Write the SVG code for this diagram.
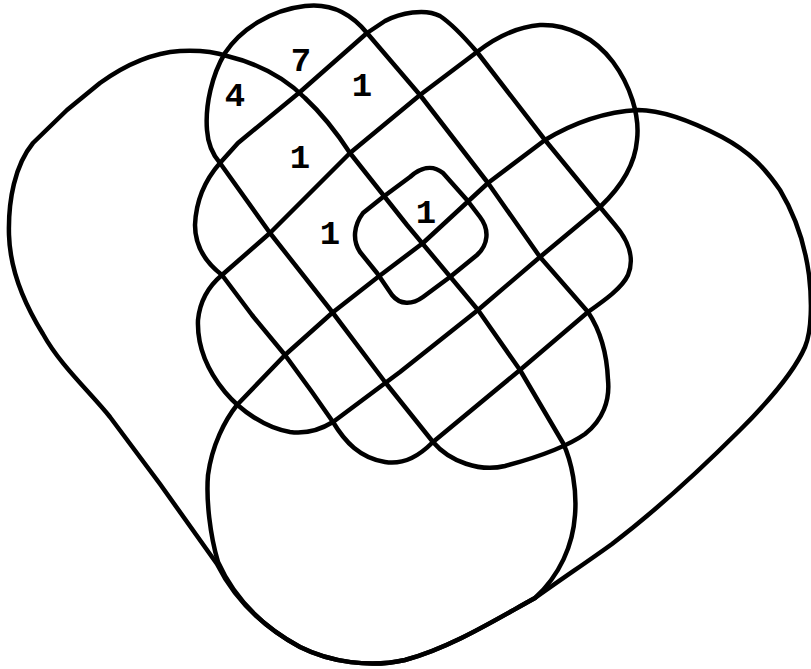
<svg xmlns="http://www.w3.org/2000/svg" width="811" height="669" viewBox="0 0 811 669">
<style>
.c{fill:none;stroke:#000;stroke-width:4.5;stroke-linejoin:round;stroke-linecap:round}
.t{font-family:"Liberation Mono","Courier New",monospace;font-weight:bold;font-size:34px;fill:#000;text-anchor:middle}
</style>
<rect width="811" height="669" fill="#fff"/>
<g id="set-L">
<path class="c" d="M 217,564 L 160,484 L 110,417 C 90,392 60,365 43,334 C 25,305 10,270 9,235 C 8,200 15,165 33,143 L 67,110 L 100,83 C 125,65 150,53 180,51 C 200,50 215,52 227,56 C 260,64 285,78 305,98 C 320,112 335,130 350,153 L 407,225 L 478,310 L 520,370 L 563,443 C 572,462 577,490 575,515 C 573,545 560,575 535,598 C 495,620 450,648 405,660 C 370,668 330,662 300,647 C 265,628 235,600 217,564 Z"/>
</g>
<g id="set-R">
<path class="c" d="M 535,598 C 560,580 590,560 612,544 C 650,515 700,470 740,430 C 770,400 795,370 805,347 C 812,330 812,300 809,275 C 805,245 795,215 780,190 C 765,168 750,152 722,137 C 695,123 665,110 638,110 C 600,112 570,125 545,140 L 488,183 L 423,243 L 378,277 L 332,313 L 285,355 L 237,405 C 225,420 212,445 208,475 C 206,500 210,535 218,562 C 235,600 265,628 300,647 C 330,662 370,668 405,660 C 450,648 495,620 535,598 Z"/>
</g>
<g id="set-A">
<path class="c" d="M 220,163 L 270,233 L 333,313 L 385,382 L 433,442 C 450,462 480,472 505,466 C 535,458 565,448 585,434 C 603,420 610,400 608,380 C 607,355 600,330 588,312 L 540,257 L 488,183 L 420,95 L 367,33 C 350,12 330,3 305,6 C 270,10 240,30 225,53 C 212,75 205,105 207,130 C 208,145 213,155 220,163 Z"/>
</g>
<g id="set-S">
<path class="c" d="M 222,275 L 252,315 L 285,355 L 312,392 L 333,422 C 345,442 360,458 385,462 C 405,465 420,455 433,442 L 520,370 L 588,312 C 605,300 622,288 628,275 C 635,258 628,240 615,225 L 600,207 L 545,140 L 477,52 C 465,38 452,24 440,16 C 425,8 400,13 385,21 L 367,33 L 300,92 L 238,143 L 220,163 C 205,180 196,200 195,225 C 195,245 205,262 222,275 Z"/>
</g>
<g id="set-P">
<path class="c" d="M 222,275 L 270,233 L 350,153 L 420,95 L 477,52 C 495,38 515,27 540,25 C 568,24 595,38 613,62 C 630,85 640,115 637,140 C 635,165 620,188 600,207 L 540,257 L 478,310 L 400,372 L 333,422 C 320,430 305,434 290,432 C 265,428 240,410 225,392 C 207,370 197,345 198,320 C 200,300 210,285 222,275 Z"/>
</g>
<g id="set-C">
<path class="c" d="M 410,177 C 420,168 432,164 443,173 L 467,200 L 480,217 C 490,230 488,245 477,255 L 450,277 L 423,297 C 412,305 400,305 392,295 L 377,273 L 360,252 C 352,240 354,225 363,213 L 383,197 Z"/>
</g>
<g id="labels">
<text class="t" x="235" y="106">4</text>
<text class="t" x="301" y="71">7</text>
<text class="t" x="362" y="96">1</text>
<text class="t" x="300" y="168">1</text>
<text class="t" x="330" y="244">1</text>
<text class="t" x="426" y="223">1</text>
</g>
<g id="connectors"></g>
</svg>
